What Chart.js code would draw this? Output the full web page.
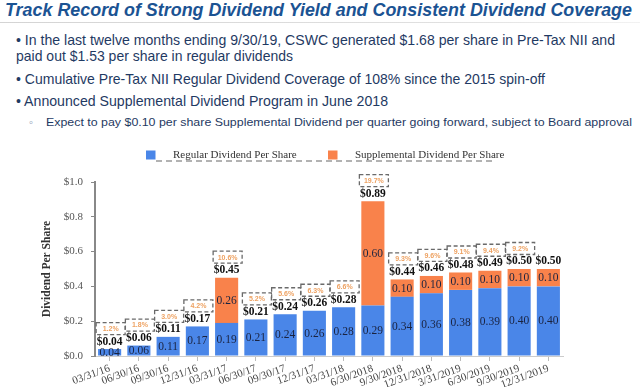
<!DOCTYPE html>
<html>
<head>
<meta charset="utf-8">
<script src="https://cdn.jsdelivr.net/npm/chart.js@4.4.1/dist/chart.umd.min.js"></script>
<style>
  html,body{margin:0;padding:0;background:#fff;}
  body{width:640px;height:387px;position:relative;overflow:hidden;}
  .t{position:absolute;white-space:nowrap;display:inline-block;transform-origin:left top;}
  #title{font:italic bold 18.5px "Liberation Sans",Arial,sans-serif;color:#1b5393;}
  .b{font:14.3px "Liberation Sans",Arial,sans-serif;color:#1f3a63;}
  .s{font:11.5px "Liberation Sans",Arial,sans-serif;color:#1f3a63;}
  #rule{position:absolute;left:0;top:22px;width:640px;height:1px;background:linear-gradient(90deg,#d4d4d4,#e0e0e0 70%,#f2f2f2);}
  #wrap{position:absolute;left:0;top:140px;width:640px;height:247px;}
</style>
</head>
<body>
<div id="title" class="t" style="left:5px;top:-1px" data-w="627">Track Record of Strong Dividend Yield and Consistent Dividend Coverage</div>
<div id="rule"></div>
<div class="t b" style="left:16px;top:32px" data-w="599">• In the last twelve months ending 9/30/19, CSWC generated $1.68 per share in Pre-Tax NII and</div>
<div class="t b" style="left:16px;top:48px" data-w="277">paid out $1.53 per share in regular dividends</div>
<div class="t b" style="left:16px;top:71px" data-w="529">• Cumulative Pre-Tax NII Regular Dividend Coverage of 108% since the 2015 spin-off</div>
<div class="t b" style="left:16px;top:93px" data-w="372">• Announced Supplemental Dividend Program in June 2018</div>
<div class="t s" style="left:29px;top:116px;color:#8a9bb5">◦</div>
<div class="t s" style="left:46px;top:116px" data-w="586">Expect to pay $0.10 per share Supplemental Dividend per quarter going forward, subject to Board approval</div>
<div id="wrap"><canvas id="c" width="640" height="247"></canvas></div>
<script>
const categories = ['03/31/16','06/30/16','09/30/16','12/31/16','03/31/17','06/30/17','09/30/17','12/31/17','03/31/18','6/30/2018','9/30/2018','12/31/2018','3/31/2019','6/30/2019','9/30/2019','12/31/2019'];
const regularDividend = [0.04,0.06,0.11,0.17,0.19,0.21,0.24,0.26,0.28,0.29,0.34,0.36,0.38,0.39,0.40,0.40];
const supplementalDividend = [null,null,null,null,0.26,null,null,null,null,0.60,0.10,0.10,0.10,0.10,0.10,0.10];
const yieldLabels = ['1.2%','1.8%','3.0%','4.2%','10.6%','5.2%','5.6%','6.3%','6.6%','19.7%','9.3%','9.6%','9.1%','9.4%','9.2%',null];
const yTicks = [0,0.2,0.4,0.6,0.8,1.0];

document.querySelectorAll('[data-w]').forEach(el=>{
  const w = el.getBoundingClientRect().width;
  el.style.transform = 'scaleX(' + (+el.dataset.w / w) + ')';
});

const SERIF = '"Liberation Serif","Times New Roman",serif';
const SANS = '"Liberation Sans",Arial,sans-serif';

const labelPlugin = {
  id:'labels',
  afterDatasetsDraw(chart){
    const c = chart.ctx;
    const m0 = chart.getDatasetMeta(0), m1 = chart.getDatasetMeta(1);
    c.save();
    categories.forEach((cat,i)=>{
      const b0 = m0.data[i];
      c.textAlign='center'; c.textBaseline='middle';
      c.font = '11.5px ' + SERIF; c.fillStyle = '#1a2340';
      c.fillText(regularDividend[i].toFixed(2), b0.x, (b0.y+b0.base)/2 + 0.5);
      let top = b0.y;
      let total = regularDividend[i];
      if (supplementalDividend[i] != null){
        const b1 = m1.data[i];
        c.fillText(supplementalDividend[i].toFixed(2), b1.x, (b1.y+b1.base)/2 + 0.5);
        top = b1.y;
        total += supplementalDividend[i];
      }
      c.font = 'bold 11.5px ' + SERIF; c.fillStyle = '#111';
      c.fillText('$' + total.toFixed(2), b0.x, top - 7.5);
      if (yieldLabels[i]){
        const cx = b0.x + 1, cy = top - 20.5, w = 29, h = 12;
        c.setLineDash([4,2.5]); c.lineWidth = 1.3; c.strokeStyle = '#6a6a6a';
        c.strokeRect(cx - w/2, cy - h/2, w, h);
        c.setLineDash([]);
        c.font = 'bold 7px ' + SANS; c.fillStyle = '#eea262';
        c.fillText(yieldLabels[i], cx, cy + 0.5);
      }
    });
    c.restore();
  },
  afterDraw(chart){
    const c = chart.ctx;
    const ds = chart.data.datasets;
    c.save();
    c.setLineDash([6,4]); c.lineWidth = 1.2; c.strokeStyle = '#666';
    c.beginPath(); c.moveTo(156, 21); c.lineTo(493, 21); c.stroke();
    c.setLineDash([]);
    const pos = [[146,173],[328,355]];
    ds.forEach((d,k)=>{
      c.fillStyle = d.backgroundColor;
      c.fillRect(pos[k][0], 10.5, 9.5, 9);
      c.font = '11px ' + SERIF; c.fillStyle = '#333';
      c.textAlign='left'; c.textBaseline='middle';
      c.fillText(d.label, pos[k][1], 15);
    });
    c.restore();
  }
};

new Chart(document.getElementById('c'), {
  type:'bar',
  data:{
    labels:categories,
    datasets:[
      {label:'Regular Dividend Per Share', data:regularDividend, backgroundColor:'#4a86e8', categoryPercentage:1, barPercentage:0.79},
      {label:'Supplemental Dividend Per Share', data:supplementalDividend, backgroundColor:'#f9824b', categoryPercentage:1, barPercentage:0.79}
    ]
  },
  options:{
    responsive:false, animation:false,
    layout:{padding:{top:42,right:77,left:40,bottom:0}},
    plugins:{legend:{display:false}, tooltip:{enabled:false}},
    scales:{
      x:{
        stacked:true,
        grid:{drawOnChartArea:false, offset:false, tickLength:5, color:'#bbb'},
        border:{color:'#ccc'},
        ticks:{minRotation:20, maxRotation:20, autoSkip:false, font:{family:SERIF, size:11}, color:'#444', padding:1},
        afterFit(s){ s.height = 31; }
      },
      y:{
        stacked:true, min:0, max:1,
        afterBuildTicks(s){ s.ticks = yTicks.map(v=>({value:v})); },
        ticks:{callback:v=>'$'+Number(v).toFixed(1), font:{family:SERIF, size:11}, color:'#555', padding:8},
        grid:{drawOnChartArea:false, tickLength:4, color:'#888'},
        border:{color:'#888', width:2},
        title:{display:true, text:'Dividend Per Share', font:{family:SERIF, size:11.5, weight:'bold'}, color:'#333', padding:0},
        afterFit(s){ s.width = 55; }
      }
    }
  },
  plugins:[labelPlugin]
});
</script>
</body>
</html>
